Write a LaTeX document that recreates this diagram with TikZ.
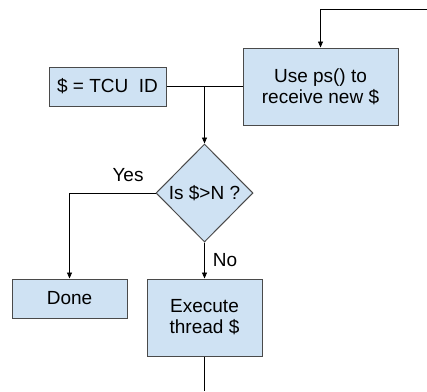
\documentclass[tikz,border=0pt]{standalone}
\usepackage{fontspec}
\setmainfont{Liberation Sans}
\usetikzlibrary{arrows.meta,shapes.geometric}
\definecolor{boxfill}{HTML}{CFE2F3}
\definecolor{boxline}{HTML}{4A4A4A}
\begin{document}
\begin{tikzpicture}[x=1pt,y=-1pt,
  flowbox/.style={draw=boxline,line width=1pt,fill=boxfill,inner sep=0pt,align=center,
    font=\fontsize{19}{21}\selectfont},
  decision/.style={diamond,draw=boxline,line width=1pt,fill=boxfill,inner sep=0pt,
    minimum width=97pt,minimum height=98pt,aspect=1,font=\fontsize{19}{21}\selectfont},
  link/.style={draw=black,line width=0.8pt},
  arrowlink/.style={link,-{Triangle[length=6pt,width=5pt]}},
  tag/.style={font=\fontsize{19}{21}\selectfont}]
\useasboundingbox (0,0) rectangle (427,391);
% process boxes
\node[flowbox,minimum width=155pt,minimum height=77pt] (recv) at (320.5,86.5) {Use ps() to\\receive new \$};
\node[flowbox,minimum width=117pt,minimum height=39pt] (init) at (107.5,86.5) {\$ = TCU\ \ ID};
\node[decision] (test) at (204.5,193) {Is \$>N ?};
\node[flowbox,minimum width=115pt,minimum height=39pt] (done) at (69.5,298.5) {Done};
\node[flowbox,minimum width=115pt,minimum height=77pt] (exec) at (204.5,317.5) {Execute\\thread \$};
% helper points
\coordinate (loopin) at (427,9);
\coordinate (loopcorner) at (320.5,9);
\coordinate (merge) at (204.5,86.5);
\coordinate (yescorner) at (69.5,193);
\coordinate (outbottom) at (204.5,391);
% connectors
\draw[arrowlink] (loopin) -- (loopcorner) -- (recv.north);
\draw[link] (init.east) -- (recv.west);
\draw[arrowlink] (merge) -- (test.north);
\draw[arrowlink] (test.west) -- (yescorner) -- (done.north);
\draw[arrowlink] (test.south) -- (exec.north);
\draw[link] (exec.south) -- (outbottom);
% branch labels
\node[tag] (yes) at (128,175) {Yes};
\node[tag] (no) at (225,260) {No};
\end{tikzpicture}
\end{document}
